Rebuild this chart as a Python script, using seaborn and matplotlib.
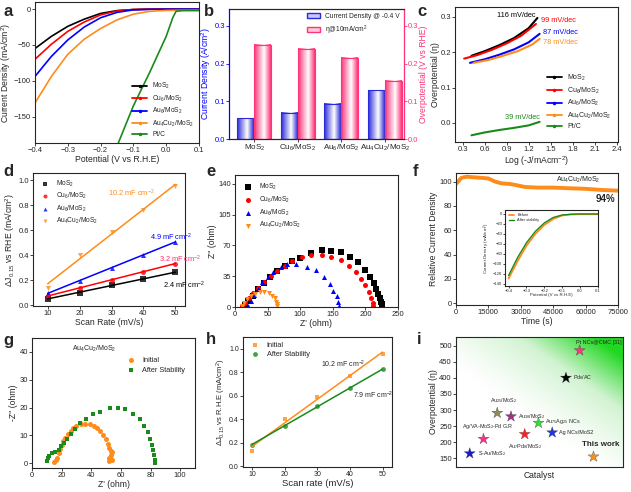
import numpy as np
import pandas as pd
import matplotlib
matplotlib.use('Agg')
import matplotlib.pyplot as plt
from matplotlib.colors import LinearSegmentedColormap
from matplotlib.lines import Line2D
from matplotlib.patches import Patch
import seaborn as sns

sns.set_style('ticks')
plt.rcParams['font.family'] = ['Liberation Sans', 'DejaVu Sans']
plt.rcParams['mathtext.fontset'] = 'custom'
plt.rcParams['mathtext.rm'] = 'Liberation Sans'
plt.rcParams['mathtext.it'] = 'Liberation Sans:italic'
plt.rcParams['mathtext.bf'] = 'Liberation Sans:bold'
plt.rcParams['axes.linewidth'] = 0.8
plt.rcParams['xtick.major.size'] = 2.0
plt.rcParams['ytick.major.size'] = 2.0
plt.rcParams['xtick.major.width'] = 0.6
plt.rcParams['ytick.major.width'] = 0.6
plt.rcParams['xtick.labelsize'] = 5.5
plt.rcParams['ytick.labelsize'] = 5.5
plt.rcParams['axes.labelsize'] = 6.2
plt.rcParams['axes.labelpad'] = 0.8
plt.rcParams['xtick.major.pad'] = 1.0
plt.rcParams['ytick.major.pad'] = 1.0

# ---- data ----
samples = ['MoS$_2$', 'Cu$_6$/MoS$_2$', 'Au$_6$/MoS$_2$', 'Au$_4$Cu$_2$/MoS$_2$']

# a: LSV
lsv_v = [-0.4, -0.35, -0.3, -0.25, -0.2, -0.15, -0.1, -0.05, 0.0, 0.05, 0.1]
lsv_mos2 = [-55, -38, -24, -14, -6, -2, -0.5, 0, 0, 0, 0]
lsv_cu6 = [-70, -49, -31, -18, -8, -2.5, -0.5, 0, 0, 0, 0]
lsv_au6 = [-94, -66, -43, -25, -12, -4.5, -1, -0.3, 0, 0, 0]
lsv_au4cu2 = [-131, -94, -63, -42, -27, -15, -7, -3, -1.8, -1.5, -1.5]
ptc_v = [-0.146, -0.1, -0.05, 0.0, 0.02, 0.03, 0.05, 0.1]
ptc_j = [-187, -135, -88, -38, -12, -3, -2, -2]

# b: bars
cur_density = [0.055, 0.07, 0.093, 0.13]
eta10 = [0.25, 0.24, 0.215, 0.155]

# c: Tafel
tafel_x_mos2 = [0.42, 0.6, 0.8, 1.0, 1.2, 1.32]
tafel_y_mos2 = [0.19, 0.203, 0.22, 0.24, 0.268, 0.297]
tafel_x_cu6 = [0.32, 0.5, 0.7, 0.9, 1.1, 1.3]
tafel_y_cu6 = [0.182, 0.192, 0.207, 0.225, 0.247, 0.28]
tafel_x_au6 = [0.4, 0.6, 0.8, 1.0, 1.2, 1.35]
tafel_y_au6 = [0.17, 0.18, 0.193, 0.208, 0.228, 0.252]
tafel_x_au4cu2 = [0.45, 0.65, 0.85, 1.05, 1.25, 1.35]
tafel_y_au4cu2 = [0.17, 0.178, 0.19, 0.203, 0.222, 0.238]
tafel_x_ptc = [0.42, 0.6, 0.8, 1.0, 1.2, 1.35]
tafel_y_ptc = [-0.035, -0.027, -0.02, -0.014, -0.007, 0.003]
tafel_slopes = ['116 mV/dec', '99 mV/dec', '87 mV/dec', '78 mV/dec', '39 mV/dec']

# d: double layer
scan_rate = [10, 20, 30, 40, 50]
dj_mos2 = [0.055, 0.10, 0.16, 0.215, 0.265]
dj_cu6 = [0.075, 0.14, 0.205, 0.27, 0.335]
dj_au6 = [0.10, 0.195, 0.30, 0.405, 0.51]
dj_au4cu2 = [0.14, 0.405, 0.59, 0.765, 0.955]
cdl_labels = ['2.4 mF cm$^{-2}$', '3.2 mF cm$^{-2}$', '4.9 mF cm$^{-2}$', '10.2 mF cm$^{-2}$']

# e: Nyquist
eis_x_mos2 = [15, 20, 27, 35, 44, 54, 65, 76, 87, 100, 117, 133, 148, 162, 176, 188, 199, 207, 213, 217, 220, 223, 224.5, 226]
eis_y_mos2 = [2, 7, 13, 20, 27, 34, 41, 47, 52, 56, 61, 65, 64, 62, 57, 51, 42, 34, 27, 21, 15, 10, 5.7, 3]
eis_x_cu6 = [10, 15, 21, 28, 36, 45, 55, 65, 76, 87, 102, 117, 133, 148, 163, 175, 186, 194, 200, 205, 209, 211, 212]
eis_y_cu6 = [1, 5, 10, 16, 22, 28, 35, 41, 47, 52, 57, 58.6, 58.6, 57, 53, 47, 40, 32, 25, 17, 10, 4.5, 1]
eis_x_au6 = [20, 24, 29, 35, 42, 50, 59, 70, 80, 94, 110, 124, 136, 145, 151, 156, 158, 160]
eis_y_au6 = [1, 7, 14, 21, 28, 34, 40, 45, 49, 49, 46, 41.6, 34, 25.7, 18, 12, 5.7, 1]
eis_x_au4cu2 = [10, 14, 19, 25, 31, 38, 45, 52, 57, 61, 63, 64.5, 65]
eis_y_au4cu2 = [1, 5, 9, 12, 15, 17, 17.5, 16, 13, 10, 6, 3, 1]

# f: stability
stab_t = [0, 1000, 2500, 5000, 8000, 12000, 15000, 18000, 21000, 25000, 28000, 32000, 38000, 45000, 52000, 60000, 68000, 75000]
stab_j = [98, 100, 103, 104, 103.5, 103, 102.5, 100, 98.5, 98, 97, 95.5, 95, 95, 94.5, 94, 93, 92.5]
inset_v = [-0.4, -0.35, -0.3, -0.25, -0.2, -0.15, -0.1, -0.05, 0.0, 0.05, 0.1]
inset_before = [-130, -95, -64, -40, -22, -10, -3, -1, -0.5, -0.5, -0.5]
inset_after = [-124, -88, -58, -35, -18, -7, -2, -0.5, 0, 0, 0]

# g: Nyquist before/after
g_x_init = [15, 16, 17, 18, 19, 20, 21, 22, 24, 26, 28, 30, 33, 36, 39, 42, 44, 46, 48, 50, 51, 52, 53, 54, 53, 52, 53, 52, 54]
g_y_init = [0.5, 1, 2, 3.5, 5, 6.5, 8, 9, 10.5, 11.5, 12.5, 13.2, 14, 14.2, 14, 13.4, 12.5, 11.5, 10, 8.5, 7, 5.5, 4.5, 4, 3, 2, 1.5, 0.8, 1]
g_x_after = [10.1, 10.8, 11.7, 13.5, 15.7, 18, 19.6, 21.3, 23.6, 26.3, 29.2, 32.6, 36.6, 41.1, 46, 52.4, 57.8, 62.9, 68.1, 72.6, 75.7, 78.2, 79.8, 80.9, 81.6, 82.2, 82.7, 83.1]
g_y_after = [0.9, 1.75, 2.7, 3.5, 4.1, 4.9, 6.1, 7.3, 8.8, 10.5, 12.3, 14.3, 16, 17.5, 18.4, 19.9, 19.9, 19.3, 17.5, 15.8, 13.5, 11.1, 8.8, 6.4, 4.7, 2.9, 1.2, 0]

# h: Cdl before/after
h_init = [0.135, 0.405, 0.59, 0.77, 0.955]
h_after = [0.185, 0.345, 0.515, 0.665, 0.825]

# i: comparison
catalysts = ['S-Au/MoS$_2$', 'Ag/VA-MoS$_2$-Pd G.R', 'Au$_{25}$/MoS$_2$', 'Au$_{38}$/MoS$_2$',
             'Au$_7$Pd$_8$/MoS$_2$', 'Au$_{75}$Ag$_{25}$ NCs', 'Ag NCs/MoS2', 'Pd$_8$/AC',
             'Pt NCs@CMC [31]', 'This work']
cat_eta = [165, 210, 291, 280, 225, 260, 230, 400, 485, 155]

# ---- styles ----
BLACK, RED, BLUE, ORANGE, GREEN = 'black', '#ff0000', '#0000ff', '#ff8c1a', '#1a8a1a'
PINK = '#ff2d6f'
sample_colors = [BLACK, RED, BLUE, ORANGE]

fig = plt.figure(figsize=(6.31, 4.92), dpi=100)
W, H = 631, 492


def add_ax(x0, y0, x1, y1):
    return fig.add_axes([x0 / W, 1 - y1 / H, (x1 - x0) / W, (y1 - y0) / H])


def box(ax):
    for s in ax.spines.values():
        s.set_visible(True)


def line_handles(colors, marker='.'):
    return [Line2D([], [], color=c, lw=1.3, marker=marker, ms=3) for c in colors]


# ---- a ----
ax = add_ax(35, 2, 199, 143)
for xv, yv, c in zip([lsv_v] * 4, [lsv_mos2, lsv_cu6, lsv_au6, lsv_au4cu2], sample_colors):
    sns.lineplot(x=xv, y=yv, ax=ax, color=c, lw=1.2, sort=False, estimator=None)
sns.lineplot(x=ptc_v, y=ptc_j, ax=ax, color=GREEN, lw=1.2, sort=False, estimator=None)
ax.set_xlim(-0.4, 0.1)
ax.set_ylim(-187, 10)
ax.set_xticks([-0.4, -0.3, -0.2, -0.1, 0.0, 0.1])
ax.set_yticks([0, -50, -100, -150])
ax.set_xlabel('Potential (V vs R.H.E)')
ax.set_ylabel('Current Density (mA/cm$^2$)')
ax.legend(line_handles(sample_colors + [GREEN]), samples + ['Pt/C'], loc='lower right',
          fontsize=4.8, frameon=False, handlelength=2.2, labelspacing=0.35, borderaxespad=0.3)
box(ax)

# ---- b ----
ax = add_ax(229, 9, 404, 139)
df_b = pd.DataFrame({
    'sample': samples * 2,
    'value': cur_density + eta10,
    'series': ['Current Density @ -0.4 V'] * 4 + ['η@10mA/cm$^2$'] * 4,
})
bar_cols = ['#2a2ad8', '#ff3377']
sns.barplot(data=df_b, x='sample', y='value', hue='series', palette=bar_cols, ax=ax,
            width=0.78, legend=False, saturation=1)
for cont, col in zip(ax.containers, bar_cols):
    cmap = LinearSegmentedColormap.from_list('g', [(0, col), (0.6, 'white'), (1, col)])
    for bar in cont:
        x0, y0 = bar.get_xy()
        bw, bh = bar.get_width(), bar.get_height()
        ax.imshow(np.linspace(0, 1, 64).reshape(1, -1), extent=[x0, x0 + bw, y0, y0 + bh],
                  aspect='auto', cmap=cmap, zorder=bar.get_zorder(), interpolation='bilinear')
        bar.set_facecolor('none')
        bar.set_edgecolor(col)
        bar.set_linewidth(0.8)
        bar.set_zorder(bar.get_zorder() + 0.1)
ax.set_xlim(-0.58, 3.44)
ax.set_ylim(0, 0.345)
ax.set_yticks([0.0, 0.1, 0.2, 0.3])
ax.set_xlabel('')
ax.set_ylabel('Current Density (A/cm$^2$)', color=BLUE)
ax.tick_params(axis='x', labelsize=5.8)
ax.tick_params(axis='y', colors=BLUE)
ax.spines['left'].set_color(BLUE)
ax2 = ax.twinx()
ax2.set_ylim(0, 0.345)
ax2.set_yticks([0.0, 0.1, 0.2, 0.3])
ax2.set_ylabel('Overpotential (V vs RHE)', color='#ff3377', labelpad=0.5)
ax2.tick_params(axis='y', colors='#ff3377')
ax2.spines['right'].set_color('#ff3377')
ax2.spines['left'].set_color(BLUE)
ax.legend([Patch(facecolor='#c8c8ff', edgecolor=bar_cols[0]), Patch(facecolor='#ffc8d8', edgecolor=bar_cols[1])],
          ['Current Density @ -0.4 V', 'η@10mA/cm$^2$'], loc='upper right', fontsize=4.8,
          frameon=False, handlelength=2.0, borderaxespad=0.2, labelspacing=0.5)

# ---- c ----
ax = add_ax(455, 7, 618, 142)
tafel = [(tafel_x_mos2, tafel_y_mos2), (tafel_x_cu6, tafel_y_cu6), (tafel_x_au6, tafel_y_au6),
         (tafel_x_au4cu2, tafel_y_au4cu2), (tafel_x_ptc, tafel_y_ptc)]
tafel_cols = sample_colors + [GREEN]
for (xv, yv), c in zip(tafel, tafel_cols):
    sns.lineplot(x=xv, y=yv, ax=ax, color=c, lw=1.5, sort=False, estimator=None)
slope_pos = [(1.29, 0.305, 'right'), (1.37, 0.29, 'left'), (1.4, 0.255, 'left'), (1.4, 0.228, 'left'), (1.35, 0.014, 'right')]
for (px, py, ha), txt, c in zip(slope_pos, tafel_slopes, tafel_cols):
    ax.text(px, py, txt, color=c, fontsize=5.3, ha=ha, va='center')
ax.set_xlim(0.195, 2.42)
ax.set_ylim(-0.054, 0.328)
ax.set_xticks([0.3, 0.6, 0.9, 1.2, 1.5, 1.8, 2.1, 2.4])
ax.set_yticks([0.0, 0.1, 0.2, 0.3])
ax.set_xlabel('Log (-J/mAcm$^{-2}$)')
ax.set_ylabel('Overpotential (η)', labelpad=0.3)
ax.legend(line_handles(tafel_cols), samples + ['Pt/C'], loc='lower right', fontsize=5.0,
          frameon=False, handlelength=2.2, labelspacing=0.35, bbox_to_anchor=(1.0, 0.04))
box(ax)

# ---- d ----
ax = add_ax(33, 173, 185, 306)
markers = ['s', 'o', '^', 'v']
for yv, c, m, lab in zip([dj_mos2, dj_cu6, dj_au6, dj_au4cu2], sample_colors, markers, samples):
    sns.regplot(x=scan_rate, y=yv, ax=ax, ci=None, color=c, marker=m, label=lab,
                scatter_kws=dict(s=13, linewidths=0), line_kws=dict(lw=1.1))
cdl_pos = [(46, 0.16, BLACK), (45, 0.37, PINK), (42, 0.545, BLUE), (29, 0.9, ORANGE)]
for (px, py, c), txt in zip(cdl_pos, cdl_labels):
    ax.text(px, py, txt, color=c, fontsize=5.3, ha='left', va='center')
ax.set_xlim(5.4, 53)
ax.set_ylim(-0.005, 1.06)
ax.set_xticks(scan_rate)
ax.set_yticks([0.0, 0.2, 0.4, 0.6, 0.8, 1.0])
ax.set_yticklabels(['0.0', '0.2', '0.4', '0.6', '0.8', '1.0'])
ax.set_xlabel('Scan Rate (mV/s)')
ax.set_ylabel('ΔJ$_{0.15}$ vs RHE (mA/cm$^2$)')
ax.legend(loc='upper left', fontsize=4.8, frameon=False, handletextpad=0.6, labelspacing=0.35,
          markerscale=0.8, borderaxespad=0.4)
box(ax)

# ---- e ----
ax = add_ax(235, 175, 398, 307)
eis = [(eis_x_mos2, eis_y_mos2), (eis_x_cu6, eis_y_cu6), (eis_x_au6, eis_y_au6), (eis_x_au4cu2, eis_y_au4cu2)]
for (xv, yv), c, m, lab in zip(eis, sample_colors, markers, samples):
    sns.scatterplot(x=xv, y=yv, ax=ax, color=c, marker=m, s=13, linewidth=0, label=lab)
ax.set_xlim(0, 250)
ax.set_ylim(0, 150)
ax.set_xticks([0, 50, 100, 150, 200, 250])
ax.set_yticks([0, 35, 70, 105, 140])
ax.set_xlabel("Z' (ohm)")
ax.set_ylabel("Z'' (ohm)")
ax.legend(loc='upper left', fontsize=4.8, frameon=False, handletextpad=0.6, labelspacing=0.4,
          markerscale=1.0, borderaxespad=0.6)
box(ax)

# ---- f ----
ax = add_ax(456, 173, 618, 305)
sns.lineplot(x=stab_t, y=stab_j, ax=ax, color=ORANGE, lw=2.8, sort=False, estimator=None)
ax.text(56750, 101, 'Au$_4$Cu$_2$/MoS$_2$', fontsize=5, ha='center', va='center')
ax.text(69000, 86, '94%', fontsize=7, fontweight='bold', ha='center', va='center')
ax.set_xlim(0, 75000)
ax.set_ylim(-1.4, 107)
ax.set_xticks([0, 15000, 30000, 45000, 60000, 75000])
ax.set_yticks([0, 20, 40, 60, 80, 100])
ax.set_xlabel('Time (s)')
ax.set_ylabel('Relative Current Density')
box(ax)
axi = add_ax(505, 210, 598, 286)
sns.lineplot(x=inset_v, y=inset_before, ax=axi, color=ORANGE, lw=1.3, sort=False, estimator=None, label='Before')
sns.lineplot(x=inset_v, y=inset_after, ax=axi, color=GREEN, lw=1.0, sort=False, estimator=None, label='After stability')
axi.set_xlim(-0.42, 0.1)
axi.set_ylim(-145, 8)
axi.set_xticks([-0.4, -0.3, -0.2, -0.1, 0.0, 0.1])
axi.set_yticks([0, -20, -40, -60, -80, -100, -120, -140])
axi.tick_params(labelsize=3, length=1.2, pad=0.8)
axi.set_xlabel('Potential (V vs R.H.E)', fontsize=3.2, labelpad=0.5)
axi.set_ylabel('Current Density (mA/cm$^2$)', fontsize=3.2, labelpad=0.5)
axi.legend(loc='upper left', fontsize=2.8, frameon=False, handlelength=1.5, labelspacing=0.2)
box(axi)

# ---- g ----
ax = add_ax(32, 338, 195, 468)
sns.scatterplot(x=g_x_init, y=g_y_init, ax=ax, color=ORANGE, marker='o', s=13, linewidth=0, label='Initial')
sns.scatterplot(x=g_x_after, y=g_y_after, ax=ax, color=GREEN, marker='s', s=12, linewidth=0, label='After Stability')
ax.text(42, 41, 'Au$_4$Cu$_2$/MoS$_2$', fontsize=5, ha='center', va='center')
ax.set_xlim(0, 110)
ax.set_ylim(-1.75, 45)
ax.set_xticks([0, 20, 40, 60, 80, 100])
ax.set_yticks([0, 10, 20, 30, 40])
ax.set_xlabel("Z' (ohm)")
ax.set_ylabel("-Z'' (ohm)")
ax.legend(loc='upper right', fontsize=5.3, frameon=False, handletextpad=0.6, labelspacing=0.4,
          borderaxespad=0.9, bbox_to_anchor=(1.0, 0.93))
box(ax)

# ---- h ----
ax = add_ax(243, 337, 392, 467)
sns.regplot(x=scan_rate, y=h_init, ax=ax, ci=None, color=ORANGE, marker='s', label='Initial',
            scatter_kws=dict(s=12, linewidths=0), line_kws=dict(lw=1.1))
sns.regplot(x=scan_rate, y=h_after, ax=ax, ci=None, color=GREEN, marker='o', label='After Stability',
            scatter_kws=dict(s=12, linewidths=0), line_kws=dict(lw=1.1))
ax.text(31, 0.865, '10.2 mF cm$^{-2}$', fontsize=5, ha='left', va='center')
ax.text(41, 0.605, '7.9 mF cm$^{-2}$', fontsize=5, ha='left', va='center')
ax.set_xlim(7.2, 52.9)
ax.set_ylim(-0.005, 1.1)
ax.set_xticks(scan_rate)
ax.set_yticks([0.0, 0.2, 0.4, 0.6, 0.8, 1.0])
ax.set_yticklabels(['0.0', '0.2', '0.4', '0.6', '0.8', '1.0'])
ax.tick_params(labelsize=5)
ax.set_xlabel('Scan rate (mV/s)', fontsize=6.8)
ax.set_ylabel('ΔJ$_{0.15}$ vs R.H.E (mA/cm$^2$)', fontsize=5.5)
ax.legend(loc='upper left', fontsize=5.3, frameon=False, handletextpad=0.6, labelspacing=0.3,
          borderaxespad=0.2)
box(ax)

# ---- i ----
ax = add_ax(456, 337, 623, 467)
xlim_i, ylim_i = (-1.0, 11.15), (123, 527)
xx, yy = np.meshgrid(np.linspace(0, 1, 200), np.linspace(0, 1, 200))
bg = np.clip((0.9 * xx + yy - 0.75), 0, 1) ** 1.3
bg_cmap = LinearSegmentedColormap.from_list('bg', ['white', '#d2f3d2', '#20d820'])
ax.imshow(bg, extent=[*xlim_i, *ylim_i], origin='lower', aspect='auto', cmap=bg_cmap, zorder=0)
star_cols = ['#1a1acc', '#ff2d8a', '#8c8c5a', '#a0308a', '#ff2020', '#33dd33', '#2233dd', '#000000', '#ff3388', '#ff8c1a']
cat_x = list(range(len(catalysts)))
sns.scatterplot(x=cat_x, y=cat_eta, hue=catalysts, palette=star_cols, marker='*', s=70,
                linewidth=0.2, edgecolor='#333333', ax=ax, legend=False, zorder=3)
label_off = [(6, 0, 'left', 'center'), (3, 6, 'center', 'bottom'), (5, 6, 'center', 'bottom'),
             (5, 0, 'left', 'center'), (0, -6, 'center', 'top'), (5, 1, 'left', 'center'),
             (5, 0, 'left', 'center'), (5, 0, 'left', 'center'), (-3, 4, 'left', 'bottom'),
             (5, 6, 'center', 'bottom')]
for xv, yv, name, (dx, dy, ha, va) in zip(cat_x, cat_eta, catalysts, label_off):
    bold = name == 'This work'
    ax.annotate(name, (xv, yv), xytext=(dx, dy), textcoords='offset points', ha=ha, va=va,
                fontsize=5.8 if bold else 3.9, fontweight='bold' if bold else 'normal', zorder=4)
ax.set_xlim(*xlim_i)
ax.set_ylim(*ylim_i)
ax.set_xticks([])
ax.set_yticks([150, 200, 250, 300, 350, 400, 450, 500])
ax.set_xlabel('Catalyst', labelpad=3)
ax.set_ylabel('Overpotential (η)')
box(ax)

# panel letters
for lab, (px, py) in zip('abcdefghi', [(3, 12), (204, 12), (417, 12), (3, 172), (206, 172), (413, 172),
                                         (3, 340), (206, 340), (417, 340)]):
    fig.text(px / W, 1 - py / H, lab, fontsize=12, fontweight='bold', va='center', ha='left')

fig.savefig('out.png', dpi=100)
